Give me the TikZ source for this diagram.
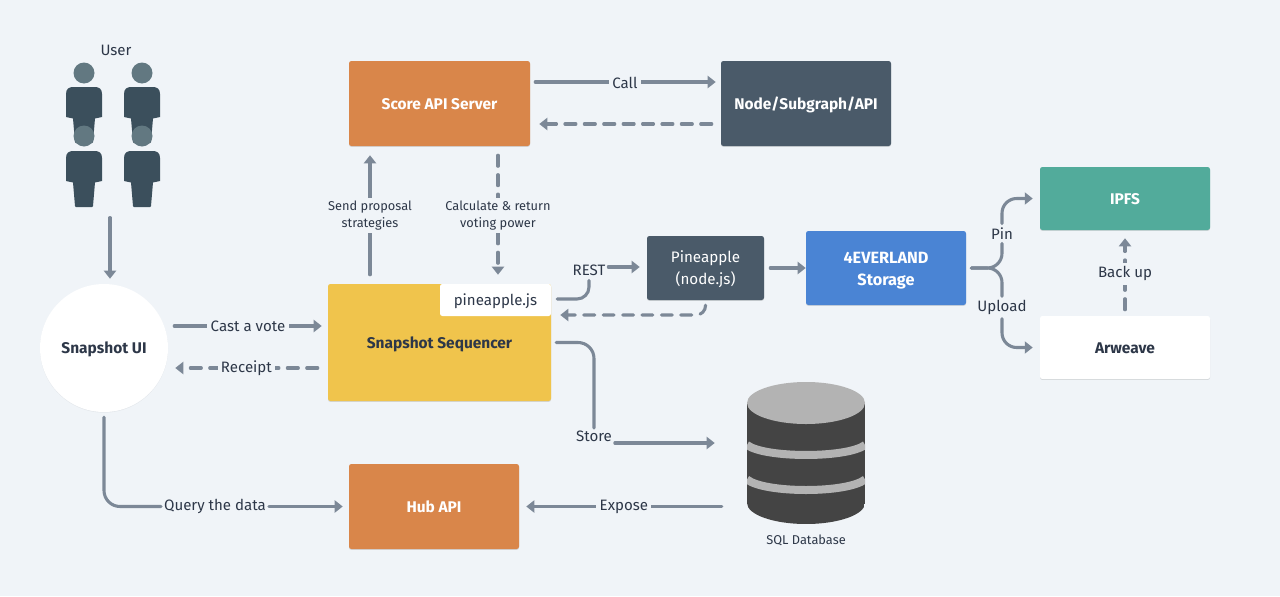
\documentclass[tikz,border=0pt]{standalone}
\usepackage{fontspec}
\setmainfont{Fira Sans}
\usetikzlibrary{arrows.meta,shadows}
\definecolor{bgc}{HTML}{F0F4F8}
\definecolor{linec}{HTML}{7C8897}
\definecolor{inkc}{HTML}{2D3748}
\definecolor{orangec}{HTML}{D9864A}
\definecolor{slatec}{HTML}{4A5A69}
\definecolor{yellowc}{HTML}{F0C44C}
\definecolor{bluec}{HTML}{4A84D4}
\definecolor{tealc}{HTML}{52AB9B}
\definecolor{bodyc}{HTML}{3B4F5C}
\definecolor{headc}{HTML}{627881}
\definecolor{dbdark}{HTML}{444444}
\definecolor{dblight}{HTML}{B3B3B3}
\def\px{0.75pt}
\newcommand{\dn}[1]{\raisebox{0pt}[9.8pt][1pt]{#1}}
\newcommand{\person}[2]{%
  \fill[bodyc] (#1-18,#2+44) -- (#1-18,#2+21) .. controls (#1-18,#2+16) and (#1-15,#2+14) .. (#1-11,#2+14)
    -- (#1+11,#2+14) .. controls (#1+15,#2+14) and (#1+18,#2+16) .. (#1+18,#2+21)
    -- (#1+18,#2+44) -- (#1+11,#2+45.5) -- (#1+9,#2+69) -- (#1+8,#2+70) -- (#1-8,#2+70) -- (#1-9,#2+69) -- (#1-11,#2+45.5) -- cycle;
}
\newcommand{\personhead}[2]{\fill[headc] (#1,#2) circle (10.5);}
\tikzset{
  softsh/.style={general shadow={shadow xshift=0pt,shadow yshift=-0.7pt,opacity=.12,fill=black}},
  boxnode/.style={rectangle,rounded corners=1.8pt,inner sep=0pt,align=center,softsh,font=\fontsize{11.6pt}{16pt}\selectfont\bfseries},
  lbl/.style={inner sep=2pt,text=inkc,align=center,font=\fontsize{11.3pt}{13pt}\selectfont},
  lblf/.style={lbl,fill=bgc,inner sep=2.5pt},
  small/.style={inner sep=2pt,fill=bgc,text=inkc,align=center,font=\fontsize{9.6pt}{13.3pt}\selectfont},
  conn/.style={draw=linec,line width=2.3pt,line cap=round,-{Triangle[length=6pt,width=9pt]}},
  plain/.style={draw=linec,line width=2.3pt,line cap=round},
  dashedconn/.style={conn,dash pattern=on 8.25pt off 6.3pt},
}
\begin{document}
\begin{tikzpicture}[x=0.75pt,y=-0.75pt]
\useasboundingbox (0,0) rectangle (1280,596);
\fill[bgc] (0,0) rectangle (1280,596);

% users
\node[lbl] (user) at (116,50.5) {User};
\person{84}{73}\person{142}{73}
\personhead{84}{73}\personhead{142}{73}
\person{84}{137}\person{142}{137}
\personhead{84}{136}\personhead{142}{136}
\node[inner sep=0pt,minimum width=94pt,minimum height=110pt] (users) at (110,138) {};

% boxes
\node[circle,fill=white,text=inkc,inner sep=0pt,align=center,minimum size=96pt,font=\fontsize{11.6pt}{16pt}\selectfont\bfseries,general shadow={shadow xshift=0pt,shadow yshift=-0.5pt,opacity=.05,fill=black}] (ui) at (104,348) {\dn{Snapshot UI}};
\node[boxnode,fill=orangec,text=white,minimum width=181*\px,minimum height=85*\px] (score) at (439.5,103.5) {\dn{Score API Server}};
\node[boxnode,fill=slatec,text=white,minimum width=170*\px,minimum height=85*\px] (graph) at (806,103.5) {\dn{Node/Subgraph/API}};
\node[boxnode,fill=yellowc,text=inkc,minimum width=223*\px,minimum height=117*\px] (seq) at (439.5,342.5) {\dn{Snapshot Sequencer}};
\node[rectangle,rounded corners=1.8pt,inner sep=0pt,fill=white,text=inkc,minimum width=111*\px,minimum height=32*\px,font=\fontsize{11.3pt}{13pt}\selectfont] (pjs) at (495.5,300) {\dn{pineapple.js}};
\node[boxnode,fill=slatec,text=white,minimum width=117*\px,minimum height=64*\px,font=\fontsize{11.4pt}{16pt}\selectfont] (pine) at (705.5,268) {\rule{0pt}{10.8pt}Pineapple\\(node.js)};
\node[boxnode,fill=bluec,text=white,minimum width=160*\px,minimum height=74*\px,font=\fontsize{12.2pt}{16.5pt}\selectfont\bfseries] (ever) at (886,268) {\rule{0pt}{12.4pt}4EVERLAND\\Storage};
\node[boxnode,fill=tealc,text=white,minimum width=170*\px,minimum height=63*\px] (ipfs) at (1125,198.5) {\dn{IPFS}};
\node[boxnode,fill=white,text=inkc,minimum width=170*\px,minimum height=63*\px] (arw) at (1125,347.5) {\dn{Arweave}};
\node[boxnode,fill=orangec,text=white,minimum width=170*\px,minimum height=85*\px] (hub) at (434,506.5) {\dn{Hub API}};

% database
\node[inner sep=0pt,minimum width=118*\px,minimum height=142*\px] (db) at (806,453) {};
\begin{scope}
\clip (747,403) -- (747,503) arc[start angle=180,end angle=0,x radius=59,y radius=21] -- (865,403) -- cycle;
\fill[dbdark] (747,382) rectangle (865,524);
\draw[dblight,line width=6pt] (747,445) .. controls (765,458.3) and (847,458.3) .. (865,445);
\draw[dblight,line width=6pt] (747,479.5) .. controls (765,493.5) and (847,493.5) .. (865,479.5);
\end{scope}
\fill[dblight] (806,403) ellipse [x radius=59,y radius=21];
\node[inner sep=0pt,text=inkc,font=\fontsize{9.6pt}{11pt}\selectfont] (dbl) at (806,540.5) {SQL Database};

% free labels on routes
\node[lbl] (rest) at (589,270) {REST};
\node[lbl] (store) at (594,436.5) {Store};
\node[lbl] (pin) at (1002,233.5) {Pin};
\node[lbl] (upload) at (1002,307.5) {Upload};
\node[lbl] (query) at (215,506.5) {Query the data};

% connectors
\draw[conn,shorten >=5*\px,shorten <=6*\px] (users.south) -- ([xshift=6*\px]ui.north);
\draw[conn,shorten >=5*\px,shorten <=5*\px] ([yshift=21.5*\px]score.east) -- ([yshift=21.5*\px]graph.west) node[lblf,pos=.497,yshift=-0.5pt] {Call};
\draw[dashedconn,shorten >=9*\px,shorten <=9*\px] ([yshift=-20.5*\px]graph.west) -- ([yshift=-20.5*\px]score.east);
\draw[conn,shorten >=9*\px,shorten <=9*\px] ([xshift=-69.5*\px]seq.north) -- ([xshift=-69.5*\px]score.south) node[small,pos=.507,yshift=-1.2pt] {Send proposal\\strategies};
\draw[dashedconn,shorten >=9*\px,shorten <=9*\px] ([xshift=58.5*\px]score.south) -- ([xshift=58.5*\px]seq.north) node[small,pos=.493,yshift=-1.2pt] {Calculate \& return\\voting power};
\draw[conn,shorten >=6*\px,shorten <=6*\px] ([yshift=22*\px]ui.east) -- ([yshift=16.5*\px]seq.west) node[lblf,pos=.5,yshift=-0.5pt] {Cast a vote};
\draw[dashedconn,shorten >=7*\px,shorten <=10*\px] ([yshift=-25.5*\px]seq.west) -- ([yshift=-20*\px]ui.east) node[lblf,pos=.51,yshift=-0.5pt] {Receipt};
\draw[plain,rounded corners=12pt,shorten <=5*\px] (ui.south) |- (query.west);
\draw[conn,shorten >=6*\px] (query.east) -- (hub.west);
\draw[conn,shorten >=7*\px,shorten <=25*\px] ([yshift=-53.5*\px]db.west) -- (hub.east) node[lblf,pos=.54,yshift=-0.5pt] {Expose};
\draw[plain,rounded corners=9pt,shorten <=6*\px,shorten >=2*\px] ([yshift=43.5*\px]seq.east) -| (rest.south);
\draw[conn,shorten >=7*\px] ([yshift=3*\px]rest.east) -- ([yshift=1*\px]pine.west);
\draw[dashedconn,rounded corners=7pt,shorten <=5*\px,shorten >=9*\px] (pine.south) |- ([yshift=27.5*\px]seq.east);
\draw[conn,shorten <=6*\px,shorten >=0*\px] (pine.east) -- (ever.west);
\draw[plain,rounded corners=12pt,shorten <=5*\px] (seq.east) -| (store.north);
\draw[conn,shorten >=32*\px] ([yshift=-6.5*\px]store.east) -- ([yshift=10*\px]db.west);
\draw[plain,rounded corners=11pt,shorten <=5*\px,shorten >=1*\px] (ever.east) -| (pin.south);
\draw[plain,rounded corners=11pt,shorten <=5*\px,shorten >=1*\px] (ever.east) -| (upload.north);
\draw[conn,rounded corners=11pt,shorten <=1*\px,shorten >=7*\px] (pin.north) |- (ipfs.west);
\draw[conn,rounded corners=11pt,shorten <=1*\px,shorten >=7*\px] (upload.south) |- (arw.west);
\draw[dashedconn,shorten >=8*\px,shorten <=6*\px] (arw.north) -- (ipfs.south) node[lblf,pos=.5,yshift=-0.7pt] {Back up};
\end{tikzpicture}
\end{document}
